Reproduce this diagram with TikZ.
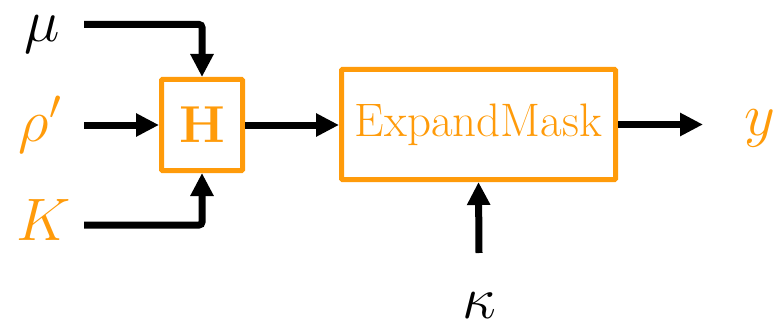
\RequirePackage{fix-cm}
\documentclass[tikz,border=0pt]{standalone}
\usepackage{xcolor}
\usepackage{tikz}
\usetikzlibrary{arrows.meta, positioning}
\definecolor{figorange}{RGB}{255,155,10}
\tikzstyle{procbox} = [rectangle, rounded corners=1pt,
draw=figorange, line width=5pt, text=figorange,
inner sep=0pt, align=center]
\tikzstyle{arrow} = [-{Triangle[length=23pt, width=22pt]}, line width=7pt, draw=black, rounded corners=3pt]
\tikzstyle{sym} = [inner sep=0pt, anchor=base, font=\fontsize{60}{60}\selectfont]

\begin{document}
\begin{tikzpicture}[x=1pt, y=-1pt]
    \useasboundingbox (0,0) rectangle (782,329);

    \node (hmap)   [procbox, minimum width=81pt, minimum height=91pt,
                    font=\fontsize{52}{52}\selectfont\bfseries] at (202,125) {H};
    \node (expand) [procbox, minimum width=274pt, minimum height=110pt,
                    font=\fontsize{47}{47}\selectfont] at (478.5,124.5) {ExpandMask};

    \node (mu)    [sym] at (42,42)   {$\mu$};
    \node (rho)   [sym, text=figorange] at (40,141) {$\rho'$};
    \node (kay)   [sym, text=figorange] at (44,240) {$K$};
    \node (out)   [sym, text=figorange] at (760,135) {$y$};
    \node (kappa) [sym] at (479,318) {$\kappa$};

    \coordinate (muin)  at (84,24.5);
    \coordinate (rhoin) at (84,125);
    \coordinate (kin)   at (84,225);
    \coordinate (yout)  at (703,124.5);
    \coordinate (kapin) at (479,253);

    \draw[arrow] (muin)  -| (hmap.north);
    \draw[arrow] (rhoin) -- (hmap.west);
    \draw[arrow] (kin)   -| (hmap.south);
    \draw[arrow] (hmap.east) -- (expand.west |- hmap.east);
    \draw[arrow] (expand.east) -- (yout);
    \draw[arrow] (kapin) -- (expand.south);
\end{tikzpicture}
\end{document}
